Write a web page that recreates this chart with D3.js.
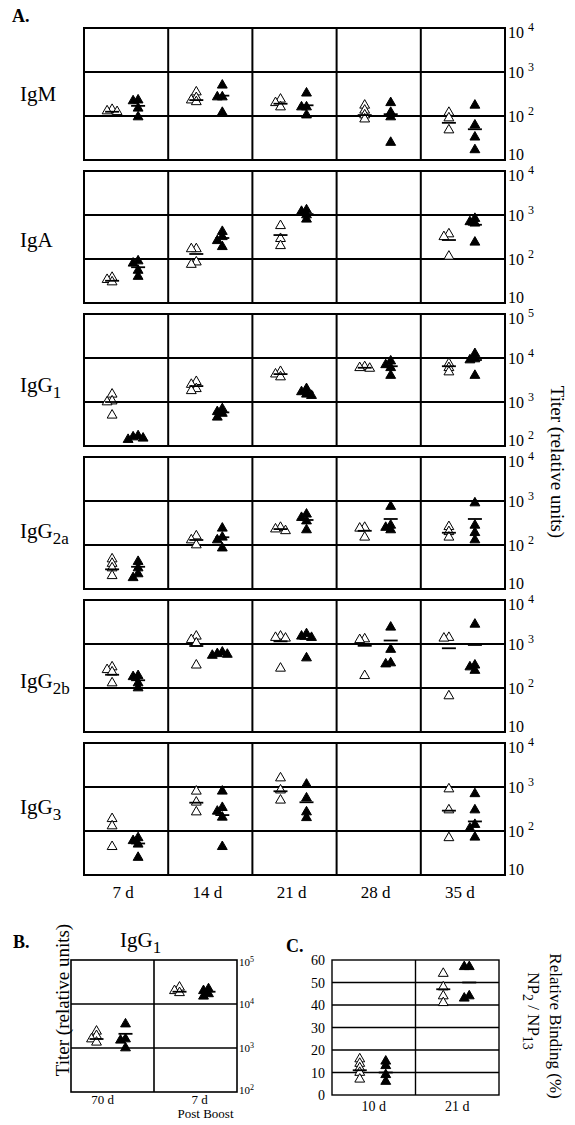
<!DOCTYPE html>
<html>
<head>
<meta charset="utf-8">
<script src="https://cdn.jsdelivr.net/npm/d3@7"></script>
<style>
  body { margin: 0; background: #fff; }
  svg { display: block; }
  text { font-family: "Liberation Serif", "Times New Roman", serif; fill: #000; }
</style>
</head>
<body>
<svg id="fig" width="575" height="1125"></svg>
<script>
'use strict';

// ---- panel A : titers by isotype and day ----
var days = ['7 d', '14 d', '21 d', '28 d', '35 d'];
var isoNames = ['IgM', 'IgA', 'IgG', 'IgG', 'IgG', 'IgG'];
var isoSubs = ['', '', '1', '2a', '2b', '3'];
var isoDecades = [[1, 4], [1, 4], [2, 5], [1, 4], [1, 4], [1, 4]];

// one list per day, null = not measured
var openIgM = [[130, 140, 125], [350, 260, 210, 230], [240, 200, 160], [175, 135, 105, 85], [120, 90, 48]];
var filledIgM = [[230, 220, 150, 95], [500, 270, 270, 120], [330, 160, 160, 105], [200, 120, 95, 25], [175, 62, 33, 17]];
var meanOpenIgM = [125, 230, 190, 105, 70];
var meanFilledIgM = [170, 290, 175, 110, 50];

var openIgA = [[38, 34, 30], [170, 170, 85, 75], [570, 290, 200], null, [370, 320, 115]];
var filledIgA = [[90, 80, 55, 40], [420, 320, 260, 190], [1300, 1200, 1000, 800], null, [830, 700, 650, 240]];
var meanOpenIgA = [32, 130, 350, null, 270];
var meanFilledIgA = [65, 300, 1050, null, 600];

var openIgG1 = [[1500, 1050, 1000, 500], [2900, 2500, 2000, 1800], [4900, 4300, 3700], [6300, 6000, 5800], [7500, 6000, 4800]];
var filledIgG1 = [[170, 160, 150, 140], [700, 600, 550, 450], [2000, 1700, 1500, 1400], [8500, 7000, 6000, 4000], [12500, 9500, 9000, 4000]];
var meanOpenIgG1 = [1000, 2300, 4300, 6000, 6500];
var meanFilledIgG1 = [155, 580, 1650, 6500, 9000];

var openIgG2a = [[48, 38, 30, 20], [160, 130, 100], [250, 230, 210], [250, 240, 150], [260, 200, 150]];
var filledIgG2a = [[42, 30, 22, 18], [240, 150, 130, 85], [500, 420, 350, 220], [750, 280, 250, 220], [900, 280, 190, 130]];
var meanOpenIgG2a = [28, 130, 230, 210, 190];
var meanFilledIgG2a = [32, 150, 370, 390, 390];

var openIgG2b = [[300, 260, 230, 130], [1500, 1250, 1050, 330], [1500, 1400, 1350, 280], [1300, 1250, 190], [1400, 1350, 66]];
var filledIgG2b = [[190, 180, 130, 100], [650, 600, 580, 550], [1700, 1500, 1400, 480], [2400, 750, 370, 350], [2800, 330, 300, 250]];
var meanOpenIgG2b = [200, 900, 1150, 910, 800];
var meanFilledIgG2b = [150, 600, 1300, 1200, 950];

var openIgG3 = [[190, 130, 44], [800, 450, 270], [1600, 850, 500], null, [900, 300, 70]];
var filledIgG3 = [[70, 60, 50, 25], [800, 340, 280, 205, 44], [1150, 560, 270, 200], null, [700, 300, 140, 115, 72]];
var meanOpenIgG3 = [100, 440, 800, null, 290];
var meanFilledIgG3 = [52, 230, 450, null, 165];

// ---- panel B : IgG1 after boost ----
var boostDays = ['70 d', '7 d'];
var openBoost = [[2400, 1900, 1600, 1350], [24000, 20000, 18000]];
var filledBoost = [[3500, 1600, 1500, 1000], [22000, 20000, 17000, 15000]];
var meanOpenBoost = [1600, 19000];
var meanFilledBoost = [2100, 19000];

// ---- panel C : relative binding NP2/NP13 (%) ----
var bindDays = ['10 d', '21 d'];
var bindTicks = [0, 10, 20, 30, 40, 50, 60];
var openBind = [[16, 14, 12, 10, 7], [54, 48, 44, 41]];
var filledBind = [[15, 13, 9, 6], [57, 57, 44, 43]];
var meanOpenBind = [11, 47];
var meanFilledBind = [10, 50];

// row label nudges (px below panel middle), layout only
var labelDy = [7, 10, 12, 15, 22, 5];

var svg = d3.select('#fig');
var tri = d3.symbol().type(d3.symbolTriangle);

// spread near-identical values sideways so the triangles stay visible
function swarm(vals, cx, y, step) {
  var placed = [];
  vals.slice().sort(function(a, b) { return b - a; }).forEach(function(v) {
    var py = y(v);
    var cands = [0, -step, step, -2 * step, 2 * step, -3 * step, 3 * step];
    for (var i = 0; i < cands.length; i++) {
      var px = cx + cands[i];
      var ok = placed.every(function(p) {
        return Math.abs(p.x - px) >= step || Math.abs(p.y - py) >= 4;
      });
      if (ok || i == cands.length - 1) { placed.push({x: px, y: py}); break; }
    }
  });
  return placed;
}

function drawGroups(g, x, y, cats, opens, filleds, meanO, meanF, opt) {
  cats.forEach(function(c, i) {
    var cx = x(c) + x.bandwidth() / 2;
    [[opens, meanO, opt.offOpen, '#fff'], [filleds, meanF, opt.offFill, '#000']].forEach(function(s) {
      var vals = s[0][i];
      if (!vals) return;
      var gx = cx + s[2];
      g.selectAll(null)
        .data(swarm(vals, gx, y, opt.step))
        .enter().append('path')
        .attr('d', tri.size(opt.size)())
        .attr('transform', function(p) { return 'translate(' + p.x + ',' + p.y + ')'; })
        .attr('fill', s[3])
        .attr('stroke', '#000')
        .attr('stroke-width', 1);
      if (s[1][i] != null) {
        g.append('line')
          .attr('x1', gx - opt.bar / 2).attr('x2', gx + opt.bar / 2)
          .attr('y1', y(s[1][i])).attr('y2', y(s[1][i]))
          .attr('stroke', '#000').attr('stroke-width', 1.8);
      }
    });
  });
}

function frame(g, x, yLines, left, right, top, bottom, sw) {
  yLines.forEach(function(yy) {
    g.append('line').attr('x1', left).attr('x2', right).attr('y1', yy).attr('y2', yy)
      .attr('stroke', '#000').attr('stroke-width', sw);
  });
  x.domain().slice(1).forEach(function(c) {
    g.append('line').attr('x1', x(c)).attr('x2', x(c)).attr('y1', top).attr('y2', bottom)
      .attr('stroke', '#000').attr('stroke-width', sw);
  });
  g.append('rect').attr('x', left).attr('y', top)
    .attr('width', right - left).attr('height', bottom - top)
    .attr('fill', 'none').attr('stroke', '#000').attr('stroke-width', sw);
}

function powLabel(g, x, yy, k, fs) {
  var t = g.append('text').attr('x', x).attr('y', yy).style('font-size', fs + 'px').text('10');
  if (k > 1) t.append('tspan').attr('dx', fs * 0.25).attr('dy', -fs * 0.45)
    .style('font-size', (fs * 0.75) + 'px').text(k);
}

// ===== A =====
svg.append('text').attr('x', 12).attr('y', 22).style('font-size', '18px')
  .style('font-weight', 'bold').text('A.');

var A = {left: 84, right: 505, top0: 28, step: 143, h: 132};
var xA = d3.scaleBand().domain(days).range([A.left, A.right]);
var panelData = [
  [openIgM, filledIgM, meanOpenIgM, meanFilledIgM],
  [openIgA, filledIgA, meanOpenIgA, meanFilledIgA],
  [openIgG1, filledIgG1, meanOpenIgG1, meanFilledIgG1],
  [openIgG2a, filledIgG2a, meanOpenIgG2a, meanFilledIgG2a],
  [openIgG2b, filledIgG2b, meanOpenIgG2b, meanFilledIgG2b],
  [openIgG3, filledIgG3, meanOpenIgG3, meanFilledIgG3]
];

isoNames.forEach(function(name, r) {
  var top = A.top0 + r * A.step, bottom = top + A.h;
  var dec = isoDecades[r];
  var y = d3.scaleLog().domain([Math.pow(10, dec[0]), Math.pow(10, dec[1])]).range([bottom, top]);
  var g = svg.append('g');
  var ks = d3.range(dec[0], dec[1] + 1);
  frame(g, xA, ks.slice(1, -1).map(function(k) { return y(Math.pow(10, k)); }),
    A.left, A.right, top, bottom, 2);
  var d = panelData[r];
  drawGroups(g, xA, y, days, d[0], d[1], d[2], d[3],
    {offOpen: -14, offFill: 12, step: 5, size: 42, bar: 14});
  ks.forEach(function(k) {
    var yy = y(Math.pow(10, k));
    powLabel(g, 508, Math.min(Math.max(yy + 6, top + 10), bottom), k, 16);
  });
  var lab = g.append('text').attr('x', 20).attr('y', (top + bottom) / 2 + labelDy[r])
    .style('font-size', '21px').text(name);
  if (isoSubs[r]) lab.append('tspan').attr('dy', 6).style('font-size', '17px').text(isoSubs[r]);
});

var aBottom = A.top0 + 5 * A.step + A.h;
svg.selectAll(null).data(days).enter().append('text')
  .attr('x', function(d) { return xA(d) + xA.bandwidth() / 2 - 3; })
  .attr('y', aBottom + 23)
  .attr('text-anchor', 'middle').style('font-size', '17px')
  .text(function(d) { return d; });

svg.append('text').attr('transform', 'translate(551,462) rotate(90)')
  .attr('text-anchor', 'middle').style('font-size', '19px').text('Titer (relative units)');

// ===== B =====
var B = {left: 71, right: 237, top: 960, bottom: 1092};
var xB = d3.scaleBand().domain(boostDays).range([B.left, B.right]);
var yB = d3.scaleLog().domain([1e2, 1e5]).range([B.bottom, B.top]);
var gB = svg.append('g');
frame(gB, xB, [1e3, 1e4].map(yB), B.left, B.right, B.top, B.bottom, 1.6);
drawGroups(gB, xB, yB, boostDays, openBoost, filledBoost, meanOpenBoost, meanFilledBoost,
  {offOpen: -16, offFill: 13, step: 5, size: 42, bar: 14});
[2, 3, 4, 5].forEach(function(k) {
  var yy = yB(Math.pow(10, k));
  var t = gB.append('text').attr('x', 239).attr('y', Math.min(Math.max(yy + 4, B.top + 6), B.bottom + 2))
    .style('font-size', '11px').text('10');
  t.append('tspan').attr('dy', -4).style('font-size', '8px').text(k);
});
svg.append('text').attr('x', 13).attr('y', 948).style('font-size', '18px')
  .style('font-weight', 'bold').text('B.');
var tB = svg.append('text').attr('x', 120).attr('y', 947).style('font-size', '21px').text('IgG');
tB.append('tspan').attr('dy', 6).style('font-size', '17px').text('1');
svg.append('text').attr('transform', 'translate(69,1000) rotate(-90)')
  .attr('text-anchor', 'middle').style('font-size', '19px').text('Titer (relative units)');
svg.selectAll(null).data(boostDays).enter().append('text')
  .attr('x', function(d, i) { return xB(d) + xB.bandwidth() / 2 + (i ? 4 : -10); })
  .attr('y', 1104).attr('text-anchor', 'middle').style('font-size', '13px')
  .text(function(d) { return d; });
svg.append('text').attr('x', xB('7 d') + xB.bandwidth() / 2 + 10).attr('y', 1118)
  .attr('text-anchor', 'middle').style('font-size', '13px').text('Post Boost');

// ===== C =====
var C = {left: 332, right: 499, top: 960, bottom: 1095};
var xC = d3.scaleBand().domain(bindDays).range([C.left, C.right]);
var yC = d3.scaleLinear().domain([0, 60]).range([C.bottom, C.top]);
var gC = svg.append('g');
frame(gC, xC, bindTicks.slice(1, -1).map(yC), C.left, C.right, C.top, C.bottom, 1.4);
drawGroups(gC, xC, yC, bindDays, openBind, filledBind, meanOpenBind, meanFilledBind,
  {offOpen: -14, offFill: 12, step: 5, size: 42, bar: 14});
gC.selectAll(null).data(bindTicks).enter().append('text')
  .attr('x', 325).attr('y', function(d) { return yC(d) + 5; })
  .attr('text-anchor', 'end').style('font-size', '14px')
  .text(function(d) { return d; });
svg.selectAll(null).data(bindDays).enter().append('text')
  .attr('x', function(d) { return xC(d) + xC.bandwidth() / 2; })
  .attr('y', 1111).attr('text-anchor', 'middle').style('font-size', '14px')
  .text(function(d) { return d; });
svg.append('text').attr('x', 286).attr('y', 952).style('font-size', '18px')
  .style('font-weight', 'bold').text('C.');
svg.append('text').attr('transform', 'translate(550,1026) rotate(90)')
  .attr('text-anchor', 'middle').style('font-size', '17px').text('Relative Binding (%)');
var np = svg.append('text').attr('transform', 'translate(528,1011) rotate(90)')
  .attr('text-anchor', 'middle').style('font-size', '17px');
np.append('tspan').text('NP');
np.append('tspan').attr('dy', 5).style('font-size', '14px').text('2');
np.append('tspan').attr('dy', -5).text(' / NP');
np.append('tspan').attr('dy', 5).style('font-size', '14px').text('13');
</script>
</body>
</html>
